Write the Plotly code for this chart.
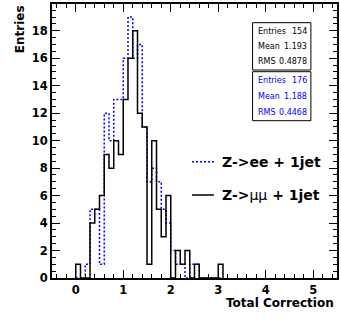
import plotly.graph_objects as go

# Histogram binning: 0.1-wide bins starting at 0.0
bin_start = 0.0
bin_width = 0.1

# Z->mumu + 1jet (black, solid)
counts_mumu = [1, 0, 0, 4, 5, 6, 9, 8, 10, 9,
               13, 16, 18, 12, 11, 1, 10, 5, 3, 6,
               0, 2, 1, 2, 0, 1, 0, 0, 0, 0, 1]
# Z->ee + 1jet (blue, dotted)
counts_ee = [0, 0, 1, 5, 5, 1, 12, 10, 13, 13,
             16, 19, 16, 17, 11, 7, 8, 7, 5, 4,
             2, 1, 1, 0, 1, 1, 0, 0, 0, 0, 0]

stat_names = ["Entries", "Mean", "RMS"]
stats_mumu = ["154", "1.193", "0.4878"]
stats_ee = ["176", "1.188", "0.4468"]

legend_labels = ["Z->ee + 1jet", "<b>Z-></b>μμ<b> + 1jet</b>"]

x_range = [-0.5, 5.5]
y_range = [0, 19.95]

W, H = 341, 320
ML, MR, MT, MB = 52, 2, 4, 42
PW, PH = W - ML - MR, H - MT - MB


def px(x):
    return (x - ML) / PW


def py(y):
    return (H - MB - y) / PH


def step_xy(counts):
    n = len(counts)
    edges = [round(bin_start + i * bin_width, 3) for i in range(n + 1)]
    xs = [edges[0]] + edges[:n] + [edges[n]]
    ys = [0] + list(counts) + [0]
    return xs, ys


fig = go.Figure()

xe, ye = step_xy(counts_ee)
fig.add_trace(go.Scatter(x=xe, y=ye, mode="lines", line_shape="hv",
                         line=dict(color="#0000ff", width=1.5, dash="2px,2px"),
                         showlegend=False, hoverinfo="skip"))
xm, ym = step_xy(counts_mumu)
fig.add_trace(go.Scatter(x=xm, y=ym, mode="lines", line_shape="hv",
                         line=dict(color="black", width=1.5),
                         showlegend=False, hoverinfo="skip"))

tickfont = dict(family="DejaVu Sans", size=11.5, color="black", weight="bold")
axis_common = dict(showline=True, linewidth=2, linecolor="black", mirror="allticks",
                   ticks="inside", ticklen=8, tickwidth=1, tickcolor="black",
                   showgrid=False, zeroline=False, tickfont=tickfont)

fig.update_xaxes(range=x_range, tick0=0, dtick=1,
                 minor=dict(dtick=0.2, ticks="inside", ticklen=4, tickcolor="black", showgrid=False),
                 **axis_common)
fig.update_yaxes(range=y_range, tick0=0, dtick=2,
                 minor=dict(dtick=0.5, ticks="inside", ticklen=4, tickcolor="black", showgrid=False),
                 **axis_common)

shapes = []
annotations = []

# Statistics boxes
stat_font = dict(family="DejaVu Sans", size=8)
boxes = [
    (stats_mumu, "black", 22.7, 70.0, [31.3, 46.7, 62.0]),
    (stats_ee, "#0000ff", 71.7, 120.7, [80.7, 96.7, 112.3]),
]
for values, color, top, bottom, rows in boxes:
    shapes.append(dict(type="rect", xref="paper", yref="paper",
                       x0=px(254), x1=px(312.7), y0=py(bottom), y1=py(top),
                       line=dict(color="black", width=1), fillcolor="white"))
    for name, val, yy in zip(stat_names, values, rows):
        annotations.append(dict(xref="paper", yref="paper", x=px(257), y=py(yy),
                                text=name, showarrow=False, xanchor="left", yanchor="middle",
                                font=dict(color=color, **stat_font)))
        annotations.append(dict(xref="paper", yref="paper", x=px(311), y=py(yy),
                                text=val, showarrow=False, xanchor="right", yanchor="middle",
                                font=dict(color=color, **stat_font)))

# Legend
leg_font = dict(family="DejaVu Sans", size=14, color="black")
leg_rows = [(161.7, dict(color="#0000ff", width=1.5, dash="2px,2px"), "<b>" + legend_labels[0] + "</b>"),
            (195.0, dict(color="black", width=1.5), legend_labels[1])]
for yy, line, label in leg_rows:
    shapes.append(dict(type="line", xref="paper", yref="paper",
                       x0=px(193), x1=px(215), y0=py(yy), y1=py(yy), line=line))
    annotations.append(dict(xref="paper", yref="paper", x=px(221), y=py(yy),
                            text=label, showarrow=False, xanchor="left", yanchor="middle",
                            font=leg_font))

# Axis titles
title_font = dict(family="DejaVu Sans", size=12, color="black", weight="bold")
annotations.append(dict(xref="paper", yref="paper", x=px(338), y=py(303),
                        text="Total Correction", showarrow=False,
                        xanchor="right", yanchor="middle", font=title_font))
annotations.append(dict(xref="paper", yref="paper", x=px(20), y=py(3),
                        text="Entries", showarrow=False, textangle=-90,
                        xanchor="center", yanchor="top", font=title_font))

fig.update_layout(width=W, height=H,
                  margin=dict(l=ML, r=MR, t=MT, b=MB, pad=0),
                  paper_bgcolor="white", plot_bgcolor="white",
                  shapes=shapes, annotations=annotations, showlegend=False)

fig.write_html("out.html")
